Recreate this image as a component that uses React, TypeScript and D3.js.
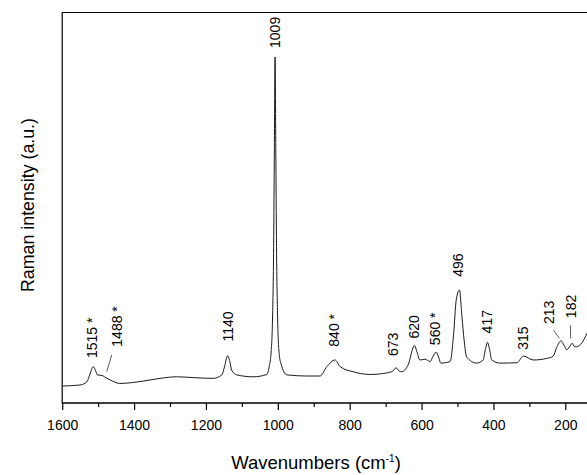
import React from "react";
import * as d3 from "d3";

// Spectrum (wavenumber cm-1, intensity a.u.)
const wavenumbers = [
  1600, 1552, 1533, 1524, 1515, 1507, 1504, 1489, 1479, 1468, 1441, 1376, 1329, 1283, 1237, 1181,
  1157, 1150, 1141, 1134, 1130, 1116, 1070, 1032, 1025, 1020, 1016, 1013, 1011, 1009, 1007, 1005,
  1002, 998, 993, 976, 921, 884, 865, 842, 828, 792, 745, 698, 681, 672, 664, 656, 639, 621, 614,
  606, 592, 578, 569, 561, 553, 548, 522, 512, 505, 496, 489, 483, 476, 448, 430, 424, 418, 412,
  406, 383, 336, 318, 290, 253, 235, 226, 213, 205, 197, 190, 182, 176, 170, 156, 141,
];
const intensities = [
  4.35, 4.6, 5.4, 7.4, 9.3, 7.9, 7.2, 7.0, 6.4, 5.9, 5.0, 5.6, 6.3, 6.7, 6.5, 6.3,
  7.2, 9.2, 12.1, 10.2, 8.4, 7.2, 6.7, 7.3, 9.5, 13, 22, 40, 65, 88.5, 65, 40,
  22, 13, 10.2, 7.2, 6.9, 6.9, 9.3, 11.0, 9.3, 8.0, 7.3, 7.7, 8.2, 9.0, 8.2, 8.0, 9.7, 14.7, 13.0,
  11.0, 11.2, 10.6, 12.0, 13.0, 11.5, 10.2, 10.6, 17.8, 26.3, 28.9, 22.1, 16.1, 11.8, 10.2, 11.0, 13.6, 15.5, 13.6,
  11.0, 10.2, 10.3, 12.0, 11.0, 11.4, 12.0, 14.1, 15.9, 14.8, 13.6, 14.3, 15.3, 14.4, 14.4, 15.3, 17.8,
];

// Peak annotations (text, label position in data units)
const annText = ["1515 *", "1488 *", "1140", "1009", "840 *", "673", "620", "560 *", "496", "417", "315", "213", "182"];
const annWn = [1517.6, 1450, 1140.8, 1009, 845, 681.6, 621.4, 563.8, 500.6, 419.9, 319.7, 245.7, 186.1];
const annLevel = [11.5, 14.4, 15.7, 90.8, 14.4, 12.0, 16.5, 14.8, 32.3, 17.8, 13.6, 20.2, 21.7];

// Leader lines for crowded labels: [wn1, I1, wn2, I2]
const leaders = [
  [1463.6, 12.3, 1477.5, 8.0],
  [234.6, 18.7, 218, 16.5],
  [186.7, 19.9, 186.7, 16.5],
];

const majorTicks = [1600, 1400, 1200, 1000, 800, 600, 400, 200];
const minorTicks = [1500, 1300, 1100, 900, 700, 500, 300];

const W = 587;
const H = 475;
const FONT = "'Liberation Sans', Arial, sans-serif";

export default function App() {
  const left = 62.7;
  const right = 587;
  const top = 12;
  const bottom = 403;
  const x = d3.scaleLinear().domain([1600, 141]).range([left, right]);
  const y = d3.scaleLinear().domain([0, 100]).range([bottom, top]);

  const data = wavenumbers.map((w, i) => [w, intensities[i]] as [number, number]);
  const line = d3
    .line<[number, number]>()
    .x((d) => x(d[0]))
    .y((d) => y(d[1]))
    .curve(d3.curveMonotoneX);

  return (
    <svg
      width={W}
      height={H}
      style={{ position: "absolute", left: 0, top: 0, background: "#fff" }}
      fontFamily={FONT}
    >
      <rect x={0} y={0} width={W} height={H} fill="#fff" />
      <defs>
        <clipPath id="plot">
          <rect x={left} y={top} width={right - left} height={bottom - top} />
        </clipPath>
      </defs>
      <path d={line(data) || ""} fill="none" stroke="#1a1a1a" strokeWidth={1} clipPath="url(#plot)" />

      {/* frame */}
      <line x1={left} x2={right} y1={top + 0.5} y2={top + 0.5} stroke="#000" strokeWidth={1.2} />
      <line x1={left - 0.5} x2={left - 0.5} y1={top} y2={bottom} stroke="#000" strokeWidth={1.2} />
      <line x1={left - 1} x2={right} y1={bottom} y2={bottom} stroke="#000" strokeWidth={1.4} />

      {majorTicks.map((t) => (
        <g key={"M" + t}>
          <line x1={x(t)} x2={x(t)} y1={bottom} y2={bottom + 7} stroke="#000" strokeWidth={1.2} />
          <text x={x(t)} y={430} textAnchor="middle" fontSize={14} fill="#000">
            {t}
          </text>
        </g>
      ))}
      {minorTicks.map((t) => (
        <line key={"m" + t} x1={x(t)} x2={x(t)} y1={bottom} y2={bottom + 4} stroke="#000" strokeWidth={1.2} />
      ))}

      {annText.map((s, i) => (
        <text
          key={s}
          transform={`translate(${x(annWn[i])},${y(annLevel[i])}) rotate(-90)`}
          dominantBaseline="central"
          fontSize={14}
          fill="#000"
        >
          {s}
        </text>
      ))}
      {leaders.map((l, i) => (
        <line key={i} x1={x(l[0])} y1={y(l[1])} x2={x(l[2])} y2={y(l[3])} stroke="#333" strokeWidth={0.8} />
      ))}

      <text x={316} y={469} textAnchor="middle" fontSize={18.5} fill="#000">
        Wavenumbers (cm
        <tspan dy={-7} fontSize={10}>-1</tspan>
        <tspan dy={7}>)</tspan>
      </text>
      <text
        transform="translate(28,205) rotate(-90)"
        textAnchor="middle"
        dominantBaseline="central"
        fontSize={17.8}
        fill="#000"
      >
        Raman intensity (a.u.)
      </text>
    </svg>
  );
}
